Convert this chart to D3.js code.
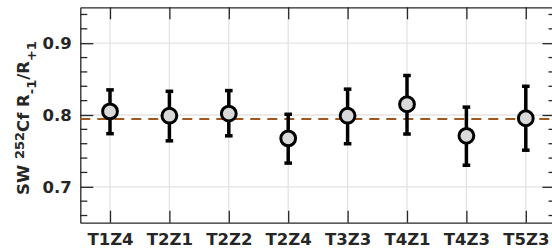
<!DOCTYPE html>
<html>
<head>
<meta charset="utf-8">
<script src="https://cdn.jsdelivr.net/npm/d3@7"></script>
<style>
  body { margin: 0; background: #fff; }
  text { font-family: "DejaVu Sans", sans-serif; font-weight: bold; fill: #262626; }
</style>
</head>
<body>
<div id="chart"></div>
<script>
// detector positions and measured ratios
var detectors = ["T1Z4", "T2Z1", "T2Z2", "T2Z4", "T3Z3", "T4Z1", "T4Z3", "T5Z3"];
var ratio     = [0.805, 0.799, 0.802, 0.7675, 0.799, 0.815, 0.771, 0.7955];
var errLow    = [0.774, 0.764, 0.771, 0.733, 0.760, 0.7735, 0.730, 0.751];
var errHigh   = [0.835, 0.833, 0.834, 0.801, 0.836, 0.855, 0.811, 0.840];
var meanRatio = [0.7944];
var yTicks    = [0.7, 0.8, 0.9];

var margin = {top: 7.3, right: -3.5, bottom: 28.3, left: 80.3};
var W = 552, H = 251;
var width = W - margin.left - margin.right,
    height = H - margin.top - margin.bottom;

var svg = d3.select("#chart").append("svg")
    .attr("width", W)
    .attr("height", H)
    .append("g")
    .attr("transform", "translate(" + margin.left + "," + margin.top + ")");

var x = d3.scaleLinear().domain([0.5, 8.5]).range([0, width]);
var y = d3.scaleLinear().domain([0.65, 0.95]).range([height, 0]);

var pos = detectors.map(function(d, i) { return i + 1; });
var minor = d3.range(0.66, 0.95, 0.02).filter(function(v) {
    return Math.abs(v * 10 - Math.round(v * 10)) > 0.01;
});

// grid
svg.append("g").selectAll("line")
    .data(pos).enter().append("line")
    .attr("x1", function(d) { return x(d); })
    .attr("x2", function(d) { return x(d); })
    .attr("y1", 0).attr("y2", height)
    .attr("stroke", "#e3e3e3").attr("stroke-width", 1.3);

svg.append("g").selectAll("line")
    .data(yTicks).enter().append("line")
    .attr("y1", function(d) { return y(d); })
    .attr("y2", function(d) { return y(d); })
    .attr("x1", 0).attr("x2", width)
    .attr("stroke", "#e3e3e3").attr("stroke-width", 1.3);

// axes, boxed
var xBottom = d3.axisBottom(x).tickValues(pos)
    .tickFormat(function(d) { return detectors[d - 1]; })
    .tickSizeInner(-12).tickSizeOuter(0).tickPadding(11);
var xTop = d3.axisTop(x).tickValues(pos).tickFormat("")
    .tickSizeInner(-12).tickSizeOuter(0);
var yLeft = d3.axisLeft(y).tickValues(yTicks).tickFormat(d3.format(".1f"))
    .tickSizeInner(-13).tickSizeOuter(0).tickPadding(8.5);
var yRight = d3.axisRight(y).tickValues(yTicks).tickFormat("")
    .tickSizeInner(-13).tickSizeOuter(0);

function styleAxis(g) {
    g.attr("font-family", null).attr("font-size", null);
    g.select(".domain").attr("stroke", "#262626").attr("stroke-width", 1.3);
    g.selectAll(".tick line").attr("stroke", "#262626").attr("stroke-width", 1.3);
    g.selectAll(".tick text").style("font-size", "16.5px").attr("fill", "#262626");
}

svg.append("g").attr("transform", "translate(0," + height + ")").call(xBottom).call(styleAxis);
svg.append("g").call(xTop).call(styleAxis);
svg.append("g").call(yLeft).call(styleAxis);
svg.append("g").attr("transform", "translate(" + width + ",0)").call(yRight).call(styleAxis);

// minor y ticks
[0, width].forEach(function(x0, k) {
    svg.append("g").selectAll("line")
        .data(minor).enter().append("line")
        .attr("x1", x0).attr("x2", k === 0 ? x0 + 7 : x0 - 7)
        .attr("y1", function(d) { return y(d); })
        .attr("y2", function(d) { return y(d); })
        .attr("stroke", "#262626").attr("stroke-width", 1.3);
});

// mean line
svg.append("line")
    .attr("x1", 0).attr("x2", width)
    .attr("y1", y(meanRatio[0])).attr("y2", y(meanRatio[0]))
    .attr("stroke", "#a0581e").attr("stroke-width", 2)
    .attr("stroke-dasharray", "10,7");

// error bars
var pts = svg.append("g").selectAll("g")
    .data(detectors).enter().append("g");

pts.append("line")
    .attr("x1", function(d, i) { return x(i + 1); })
    .attr("x2", function(d, i) { return x(i + 1); })
    .attr("y1", function(d, i) { return y(errLow[i]); })
    .attr("y2", function(d, i) { return y(errHigh[i]); })
    .attr("stroke", "#000").attr("stroke-width", 3.5);

[errLow, errHigh].forEach(function(arr) {
    pts.append("line")
        .attr("x1", function(d, i) { return x(i + 1) - 3.8; })
        .attr("x2", function(d, i) { return x(i + 1) + 3.8; })
        .attr("y1", function(d, i) { return y(arr[i]); })
        .attr("y2", function(d, i) { return y(arr[i]); })
        .attr("stroke", "#000").attr("stroke-width", 3.5);
});

pts.append("circle")
    .attr("cx", function(d, i) { return x(i + 1); })
    .attr("cy", function(d, i) { return y(ratio[i]); })
    .attr("r", 7.4)
    .attr("fill", "#d9d9d9")
    .attr("stroke", "#000").attr("stroke-width", 3);

// y label
var lab = d3.select("svg").append("text")
    .attr("transform", "translate(29,118) rotate(-90)")
    .attr("text-anchor", "middle")
    .style("font-size", "16.5px");
lab.append("tspan").text("SW ");
lab.append("tspan").style("font-size", "13px").attr("dy", -5).text("252");
lab.append("tspan").attr("dy", 5).text("Cf R");
lab.append("tspan").style("font-size", "13px").attr("dy", 7).text("-1");
lab.append("tspan").attr("dy", -7).text("/R");
lab.append("tspan").style("font-size", "13px").attr("dy", 7).text("+1");
</script>
</body>
</html>
